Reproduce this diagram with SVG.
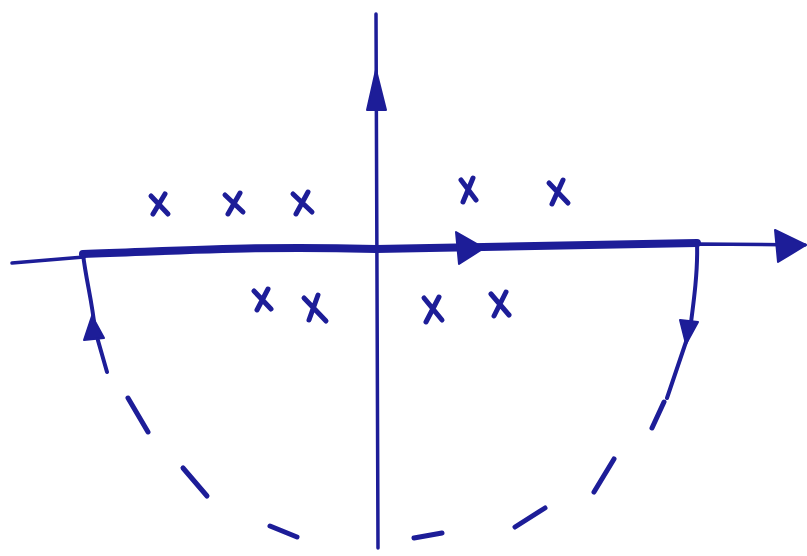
<svg xmlns="http://www.w3.org/2000/svg" width="807" height="556" viewBox="0 0 807 556">
<style>
.ink{stroke:#1d1d98;fill:none;stroke-linecap:round;stroke-linejoin:round}
.ax{stroke-width:3.5}
.ct{stroke-width:4}
.thick{stroke-width:8}
.dash{stroke-width:5}
.x{stroke-width:5}
.head{fill:#1d1d98;stroke:#1d1d98;stroke-width:2;stroke-linejoin:round}
</style>
<rect width="807" height="556" fill="#ffffff"/>
<g id="axes">
  <path class="ink ax" d="M376,14 L378,548"/>
  <polygon class="head" points="376,70 367,110 386,110"/>
  <path class="ink ax" d="M12,263 L84,257 M376,250 L697,244 L805,245"/>
  <polygon class="head" points="806,245 775,230 778,262"/>
</g>
<g id="contour">
  <path class="ink thick" d="M83,254 C200,250 260,246 376,249 L697,243"/>
  <polygon class="head" points="484,248 456,232 459,264"/>
  <path class="ink ct" d="M83,254 C86,280 92,300 95,330 L107,372"/>
  <polygon class="head" points="92,316 84,340 104,338"/>
  <path class="ink ct" d="M697,243 C698,270 694,300 690,330 L667,398"/>
  <polygon class="head" points="686,344 680,320 698,322"/>
  <path class="ink dash" d="M128,398 L148,432"/>
  <path class="ink dash" d="M183,468 L207,496"/>
  <path class="ink dash" d="M270,526 L297,537"/>
  <path class="ink dash" d="M414,538 L442,533"/>
  <path class="ink dash" d="M515,527 L545,508"/>
  <path class="ink dash" d="M594,492 L614,459"/>
  <path class="ink dash" d="M652,428 L664,402"/>
</g>
<g id="poles" class="ink x">
  <path d="M151,196 L168,214 M165,194 L153,214"/>
  <path d="M225,195 L243,212 M240,193 L228,214"/>
  <path d="M293,194 L312,212 M308,192 L296,214"/>
  <path d="M461,180 L476,200 M473,178 L463,202"/>
  <path d="M549,183 L568,203 M563,180 L552,204"/>
  <path d="M254,291 L271,309 M268,289 L257,310"/>
  <path d="M304,298 L326,321 M318,295 L309,320"/>
  <path d="M424,298 L442,320 M439,297 L426,322"/>
  <path d="M491,294 L509,315 M506,292 L494,316"/>
</g>
</svg>
